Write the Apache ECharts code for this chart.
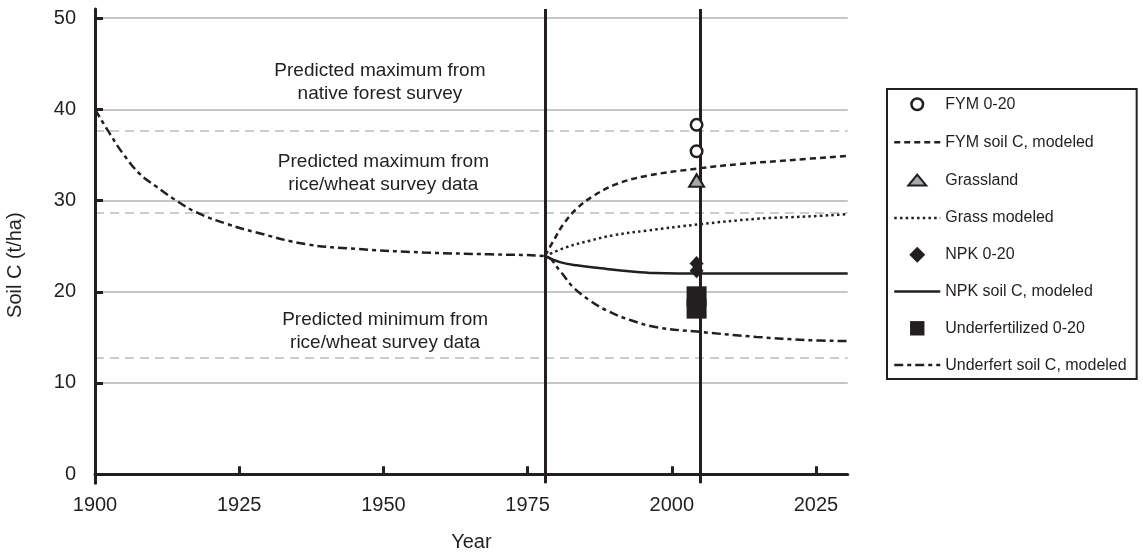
<!DOCTYPE html>
<html>
<head>
<meta charset="utf-8">
<script src="https://cdn.jsdelivr.net/npm/echarts@6/dist/echarts.min.js"></script>
<style>
  html, body { margin: 0; padding: 0; background: #ffffff; }
  #chart { width: 1143px; height: 552px; }
</style>
</head>
<body>
<div id="chart"></div>
<script>
// Soil carbon (t/ha) under different managements, 1900-2030

// Underfertilized soil C, modeled (one run from 1900, then the decline after 1978)
const underfertYears  = [1900, 1902.6, 1904.9, 1907.8, 1910.7, 1913.6, 1917.6, 1922.8, 1928, 1936.7, 1945.4, 1957, 1968.5, 1978,
                         1980.6, 1982.9, 1985.8, 1988.7, 1992.8, 1997.4, 2004.9, 2014.7, 2023.4, 2030.5];
const underfertValues = [40, 37.3, 35.1, 32.9, 31.5, 30.2, 28.7, 27.45, 26.5, 25.2, 24.7, 24.3, 24.1, 23.9,
                         22.3, 20.5, 19.05, 17.95, 16.9, 16.1, 15.6, 15.05, 14.7, 14.6];

// FYM soil C, modeled
const fymYears  = [1978, 1979.5, 1981.2, 1983.5, 1986.4, 1990.4, 1995.6, 2004.3, 2011.8, 2021, 2030.5];
const fymValues = [23.9, 25.6, 27.4, 29.1, 30.5, 31.8, 32.7, 33.5, 34.0, 34.45, 34.9];

// Grass modeled
const grassYears  = [1978, 1981.8, 1985.8, 1989.9, 1995.6, 2004.9, 2014.7, 2023.4, 2030.5];
const grassValues = [23.9, 24.9, 25.6, 26.2, 26.7, 27.4, 28.0, 28.25, 28.5];

// NPK soil C, modeled
const npkYears  = [1978, 1980.6, 1983.5, 1988.7, 1993.5, 1997, 2001, 2030.5];
const npkValues = [23.9, 23.25, 22.9, 22.5, 22.2, 22.05, 22.0, 22.0];

// Measured 0-20 cm samples
const sampleYear = 2004.3;
const fymSamples = [38.3, 35.4];
const grassSamples = [32.2];
const npkSamples = [23.1, 22.3];
const underfertSamples = [19.5, 18.15];

// Reference levels and marked years
const gridLevels = [10, 20, 30, 40, 50];
const surveyLevels = [37.7, 28.7, 12.8];
const markedYears = [1978, 2005];

// Annotations
const noteYears = [1949.4, 1950, 1950.3];
const noteValues = [43.0, 33.0, 15.7];
const noteTexts = [
  'Predicted maximum from\nnative forest survey',
  'Predicted maximum from\nrice/wheat survey data',
  'Predicted minimum from\nrice/wheat survey data'
];

// Axis ticks
const xTicks = [1900, 1925, 1950, 1975, 2000, 2025];
const yTicks = [0, 10, 20, 30, 40, 50];

const INK = '#231f20';
const FONT = '"Liberation Sans", Arial, Helvetica, sans-serif';

const pairs = (xs, ys) => xs.map((x, i) => [x, ys[i]]);

// Legend glyphs (moveTo corners give every glyph the same 16x16 frame)
const circleIcon   = 'path://M0,0M16,16M8,2.2A5.8,5.8,0,1,1,7.99,2.2Z';
const triangleIcon = 'path://M0,0M16,16M8,2.5L17,13.5L-1,13.5Z';
const diamondIcon  = 'path://M0,0M16,16M8,0L16,8L8,16L0,8Z';
const squareIcon   = 'path://M0,0M16,16M0.8,0.8L15.2,0.8L15.2,15.2L0.8,15.2Z';

// line entries in the legend show only their stroke pattern
const lineOnly = { opacity: 0 };
const legendStroke = { width: 2.5 };

const chart = echarts.init(document.getElementById('chart'), null, { renderer: 'canvas' });

chart.setOption({
  animation: false,
  backgroundColor: '#ffffff',
  textStyle: { fontFamily: FONT, color: INK },
  grid: { left: 95, right: 295.3, top: 9, bottom: 68.7, containLabel: false, outerBoundsMode: 'none' },
  xAxis: {
    type: 'value',
    min: 1900,
    max: 2030.5,
    z: 6,
    axisLine: { show: true, onZero: true, lineStyle: { color: INK, width: 3 } },
    axisTick: { show: true, inside: true, length: 8, customValues: xTicks, lineStyle: { color: INK, width: 3 } },
    axisLabel: { customValues: xTicks, formatter: v => String(v), margin: 12, fontSize: 20, color: INK, fontFamily: FONT },
    splitLine: { show: false },
    name: 'Year',
    nameLocation: 'middle',
    nameGap: 49,
    nameTextStyle: { fontSize: 20, color: INK, fontFamily: FONT }
  },
  yAxis: {
    type: 'value',
    min: -1,
    max: 51,
    z: 6,
    axisLine: { show: true, onZero: false, lineStyle: { color: INK, width: 3 } },
    axisTick: { show: true, inside: true, length: 8, customValues: yTicks, lineStyle: { color: INK, width: 3 } },
    axisLabel: { customValues: yTicks, formatter: v => String(v), margin: 19, fontSize: 20, color: INK, fontFamily: FONT },
    splitLine: { show: false },
    name: 'Soil C (t/ha)',
    nameLocation: 'middle',
    nameRotate: 90,
    nameGap: 70,
    nameTextStyle: { fontSize: 20, color: INK, fontFamily: FONT, padding: [0, 38, 0, 0] }
  },
  legend: {
    orient: 'vertical',
    left: 887,
    top: 89,
    padding: [6, 10, 6, 6],
    borderColor: INK,
    borderWidth: 2,
    itemWidth: 46,
    itemHeight: 16,
    itemGap: 20.8,
    selectedMode: false,
    textStyle: { fontSize: 16, color: INK, fontFamily: FONT },
    data: [
      { name: 'FYM 0-20', icon: circleIcon, itemStyle: { color: '#ffffff', borderColor: INK, borderWidth: 2.5 } },
      { name: 'FYM soil C, modeled', itemStyle: lineOnly, lineStyle: legendStroke },
      { name: 'Grassland', icon: triangleIcon, itemStyle: { color: '#a7a9ac', borderColor: INK, borderWidth: 2 } },
      { name: 'Grass modeled', itemStyle: lineOnly, lineStyle: legendStroke },
      { name: 'NPK 0-20', icon: diamondIcon, itemStyle: { color: INK, borderWidth: 0 } },
      { name: 'NPK soil C, modeled', itemStyle: lineOnly, lineStyle: legendStroke },
      { name: 'Underfertilized 0-20', icon: squareIcon, itemStyle: { color: INK, borderWidth: 0 } },
      { name: 'Underfert soil C, modeled', itemStyle: lineOnly, lineStyle: legendStroke }
    ]
  },
  series: [
    {
      // grid lines, survey levels and the marked years
      name: 'guides',
      type: 'line',
      data: [],
      silent: true,
      markLine: {
        silent: true,
        z: 1,
        animation: false,
        symbol: ['none', 'none'],
        label: { show: false },
        emphasis: { disabled: true },
        data: [
          ...gridLevels.map(v => ({ yAxis: v, lineStyle: { color: '#c6c6c6', width: 2, type: 'solid' } })),
          ...surveyLevels.map(v => ({ yAxis: v, lineStyle: { color: '#cdcdcd', width: 2, type: [9, 6] } })),
          ...markedYears.map(v => ({ xAxis: v, lineStyle: { color: INK, width: 3, type: 'solid' } }))
        ]
      }
    },
    {
      name: 'FYM soil C, modeled',
      type: 'line',
      data: pairs(fymYears, fymValues),
      smooth: 0.4,
      symbol: 'none',
      z: 3,
      lineStyle: { color: INK, width: 2.5, type: [6, 4] },
      itemStyle: { color: INK }
    },
    {
      name: 'Grass modeled',
      type: 'line',
      data: pairs(grassYears, grassValues),
      smooth: 0.4,
      symbol: 'none',
      z: 3,
      lineStyle: { color: INK, width: 2.5, type: [2.5, 3.2] },
      itemStyle: { color: INK }
    },
    {
      name: 'NPK soil C, modeled',
      type: 'line',
      data: pairs(npkYears, npkValues),
      smooth: 0.4,
      symbol: 'none',
      z: 3,
      lineStyle: { color: INK, width: 2.5, type: 'solid' },
      itemStyle: { color: INK }
    },
    {
      name: 'Underfert soil C, modeled',
      type: 'line',
      data: pairs(underfertYears, underfertValues),
      smooth: 0.4,
      symbol: 'none',
      z: 3,
      lineStyle: { color: INK, width: 2.5, type: [9, 4, 4, 4] },
      itemStyle: { color: INK }
    },
    {
      name: 'FYM 0-20',
      type: 'scatter',
      data: fymSamples.map(v => [sampleYear, v]),
      symbol: 'circle',
      symbolSize: 11.5,
      z: 4,
      itemStyle: { color: '#ffffff', borderColor: INK, borderWidth: 2.5, opacity: 1 }
    },
    {
      name: 'Grassland',
      type: 'scatter',
      data: grassSamples.map(v => [sampleYear, v]),
      symbol: 'triangle',
      symbolSize: [15, 12.5],
      z: 4,
      itemStyle: { color: '#a7a9ac', borderColor: INK, borderWidth: 2, opacity: 1 }
    },
    {
      name: 'NPK 0-20',
      type: 'scatter',
      data: npkSamples.map(v => [sampleYear, v]),
      symbol: 'diamond',
      symbolSize: [14, 15],
      z: 4,
      itemStyle: { color: INK, opacity: 1 }
    },
    {
      name: 'Underfertilized 0-20',
      type: 'scatter',
      data: underfertSamples.map(v => [sampleYear, v]),
      symbol: 'rect',
      symbolSize: [20, 20],
      z: 4,
      itemStyle: { color: INK, opacity: 1 }
    },
    {
      name: 'notes',
      type: 'scatter',
      data: pairs(noteYears, noteValues),
      symbolSize: 1,
      silent: true,
      z: 4,
      itemStyle: { color: 'rgba(0,0,0,0)', opacity: 1 },
      label: {
        show: true,
        position: 'inside',
        align: 'center',
        verticalAlign: 'middle',
        formatter: p => noteTexts[p.dataIndex],
        fontSize: 19,
        lineHeight: 23,
        color: INK,
        opacity: 1,
        fontFamily: FONT
      }
    }
  ]
});
</script>
</body>
</html>
